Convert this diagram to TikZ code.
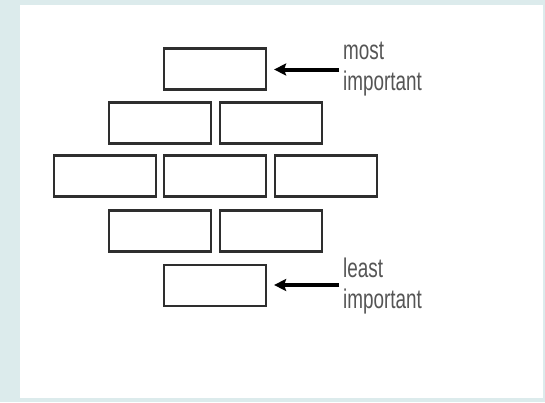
\documentclass[tikz,border=0pt]{standalone}
\usepackage{fontspec}
\setmainfont{Liberation Sans}[FakeStretch=0.7]
\usetikzlibrary{arrows.meta}
\definecolor{bgcyan}{HTML}{DCEBEC}
\definecolor{boxline}{HTML}{2E2E2E}
\definecolor{txtgray}{HTML}{555555}
\tikzset{
  brick/.style={draw=boxline, line width=2.2pt, rectangle, minimum width=102pt, minimum height=41pt, inner sep=0pt},
  lbl/.style={font=\fontsize{27}{31}\selectfont, text=txtgray, align=left, inner sep=0pt, anchor=base west},
  pointer/.style={line width=4pt, draw=black, -{Stealth[length=12pt,width=12pt,inset=2pt]}, shorten >=7pt}
}
\begin{document}
\begin{tikzpicture}[x=1pt,y=-1pt]
\useasboundingbox (0,0) rectangle (545,402);
\fill[bgcyan] (0,0) rectangle (545,402);
\fill[white] (20,5) rectangle (543,398);
% bricks
\node[brick] (r1) at (215,69) {};
\node[brick] (r2a) at (160.3,123) {};
\node[brick] (r2b) at (270.6,123) {};
\node[brick] (r3a) at (105,176) {};
\node[brick] (r3b) at (215.3,176) {};
\node[brick] (r3c) at (326.2,176) {};
\node[brick] (r4a) at (160.3,231) {};
\node[brick] (r4b) at (270.6,231) {};
\node[brick] (r5) at (215,285.5) {};
% labels
\node[lbl] (most) at (343,90) {most\\important};
\node[lbl] (least) at (343,308) {least\\important};
% arrows
\coordinate (mtail) at (339,69.5);
\coordinate (ltail) at (339,285);
\draw[pointer] (mtail) -- (r1.east |- mtail);
\draw[pointer] (ltail) -- (r5.east |- ltail);
\end{tikzpicture}
\end{document}
